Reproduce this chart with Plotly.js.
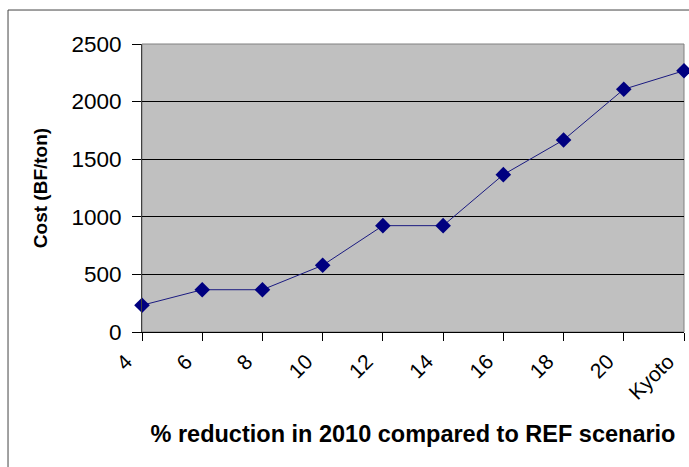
<!DOCTYPE html>
<html>
<head>
<meta charset="utf-8">
<script src="https://cdn.plot.ly/plotly-3.0.1.min.js"></script>
<style>html,body{margin:0;padding:0;background:#fff;}#chart{width:689px;height:467px;}</style>
</head>
<body>
<div id="chart"></div>
<script>
const categories = ['4', '6', '8', '10', '12', '14', '16', '18', '20', 'Kyoto'];
const cost = [232, 367, 367, 579, 923, 923, 1366, 1667, 2107, 2268];
const yTicks = [0, 500, 1000, 1500, 2000, 2500];

const trace = {
  x: categories,
  y: cost,
  type: 'scatter',
  mode: 'lines+markers',
  line: {color: '#1a1a80', width: 1},
  marker: {symbol: 'diamond', size: 12, color: '#000080', line: {width: 0}},
  cliponaxis: false,
  hoverinfo: 'skip'
};

const layout = {
  width: 689,
  height: 467,
  margin: {l: 142, r: 5, t: 44, b: 135},
  paper_bgcolor: '#ffffff',
  plot_bgcolor: '#c0c0c0',
  showlegend: false,
  font: {family: 'Liberation Sans, Arial, sans-serif', color: '#000'},
  xaxis: {
    type: 'category',
    range: [0, categories.length - 1],
    showgrid: false,
    zeroline: false,
    showline: true,
    linecolor: '#000',
    linewidth: 1,
    ticks: 'outside',
    ticklen: 8,
    tickcolor: '#000',
    tickangle: -45,
    ticklabelshift: -16,
    ticklabelstandoff: 0,
    tickfont: {size: 21, family: 'Liberation Sans, Arial, sans-serif'},
    automargin: false,
    title: {
      text: '% reduction in 2010 compared to REF scenario',
      font: {size: 23.5, family: 'Liberation Sans, Arial, sans-serif', weight: 'bold'},
      standoff: 22
    }
  },
  yaxis: {
    range: [0, 2500],
    tickvals: yTicks,
    ticktext: yTicks.map(String),
    showgrid: true,
    gridcolor: '#000',
    gridwidth: 1,
    zeroline: false,
    showline: true,
    linecolor: '#404040',
    linewidth: 1,
    ticks: 'outside',
    ticklen: 9,
    tickcolor: '#000',
    ticklabelstandoff: 6,
    tickfont: {size: 22.5, family: 'Liberation Sans, Arial, sans-serif'},
    automargin: false,
    title: {
      text: 'Cost (BF/ton)',
      font: {size: 19, family: 'Liberation Sans, Arial, sans-serif', weight: 'bold'},
      standoff: 18
    }
  },
  shapes: [
    {type: 'rect', xref: 'paper', yref: 'paper', x0: 0, x1: 1, y0: 0, y1: 1,
     line: {color: '#808080', width: 1}, layer: 'below'},
    {type: 'rect', xref: 'paper', yref: 'paper', x0: -0.2472, x1: 1.2, y0: -0.7, y1: 1.118,
     line: {color: '#444444', width: 1}, fillcolor: 'rgba(0,0,0,0)', layer: 'above'}
  ]
};

Plotly.newPlot('chart', [trace], layout, {staticPlot: true, displayModeBar: false});
</script>
</body>
</html>
